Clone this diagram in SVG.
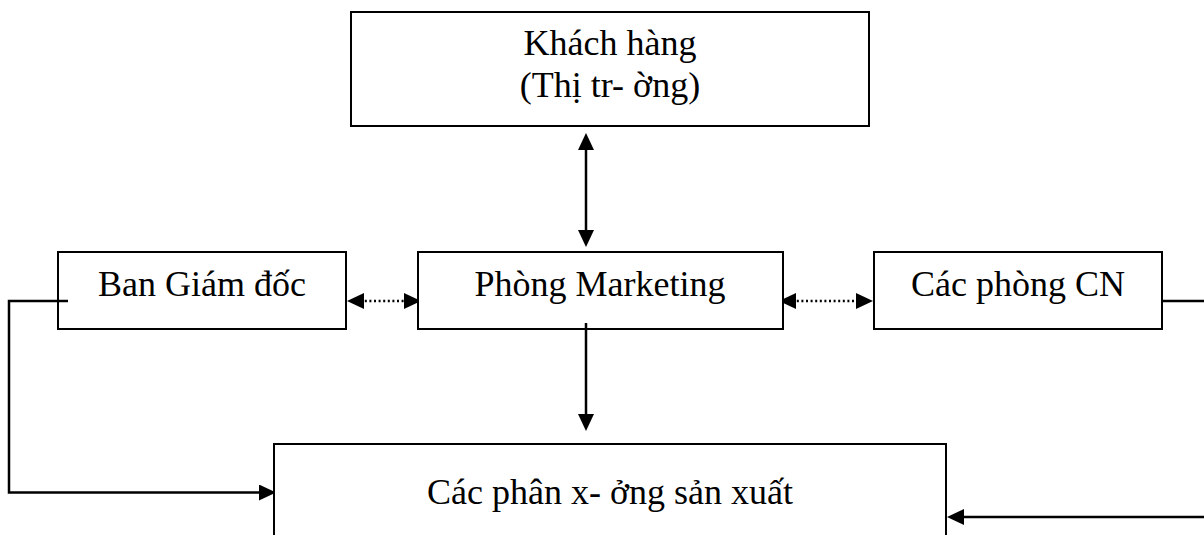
<svg xmlns="http://www.w3.org/2000/svg" width="1204" height="535" viewBox="0 0 1204 535">
<style>
.box{fill:#fff;stroke:#000;stroke-width:2}
.lbl{font-family:"Liberation Serif","Times New Roman",serif;font-size:36px;fill:#000;text-anchor:middle}
.con{fill:none;stroke:#000;stroke-width:2.5}
.dot{fill:none;stroke:#000;stroke-width:2.5;stroke-dasharray:2 2.6}
</style>
<defs>
<marker id="ah" markerUnits="userSpaceOnUse" markerWidth="17" markerHeight="16" refX="13" refY="8" orient="auto-start-reverse" viewBox="0 0 17 16">
<path d="M0,0 L17,8 L0,16 z" fill="#000"/>
</marker>
</defs>
<rect width="1204" height="535" fill="#fff"/>
<g id="connectors">
<line class="con" x1="586" y1="137" x2="586" y2="243" marker-start="url(#ah)" marker-end="url(#ah)"/>
<line class="con" x1="586" y1="323" x2="586" y2="427" marker-end="url(#ah)"/>
<line class="dot" x1="351" y1="301" x2="417" y2="301" marker-start="url(#ah)" marker-end="url(#ah)"/>
<line class="dot" x1="783" y1="301" x2="869" y2="301" marker-start="url(#ah)" marker-end="url(#ah)"/>
<path class="con" d="M68,301 H9 V492.5 H272" marker-end="url(#ah)"/>
<path class="con" d="M1162,301 H1215 V517 H951" marker-end="url(#ah)"/>
</g>
<g id="khach-hang">
<rect class="box" x="351" y="12" width="518" height="114"/>
<text class="lbl" x="610" y="55">Khách hàng</text>
<text class="lbl" x="610" y="97">(Thị tr- ờng)</text>
</g>
<g id="ban-giam-doc">
<rect class="box" x="58" y="252" width="288" height="77"/>
<text class="lbl" x="202" y="296">Ban Giám đốc</text>
</g>
<g id="phong-marketing">
<rect class="box" x="418" y="252" width="365" height="77"/>
<text class="lbl" x="600" y="296">Phòng Marketing</text>
</g>
<g id="cac-phong-cn">
<rect class="box" x="874" y="252" width="288" height="77"/>
<text class="lbl" x="1018" y="296">Các phòng CN</text>
</g>
<g id="phan-xuong">
<rect class="box" x="274" y="444" width="672" height="110"/>
<text class="lbl" x="610" y="504">Các phân x- ởng sản xuất</text>
</g>
<g id="connectors-over">
<line class="con" x1="68" y1="301" x2="58" y2="301"/>
<line class="con" x1="586" y1="323" x2="586" y2="329"/>
</g>
</svg>
